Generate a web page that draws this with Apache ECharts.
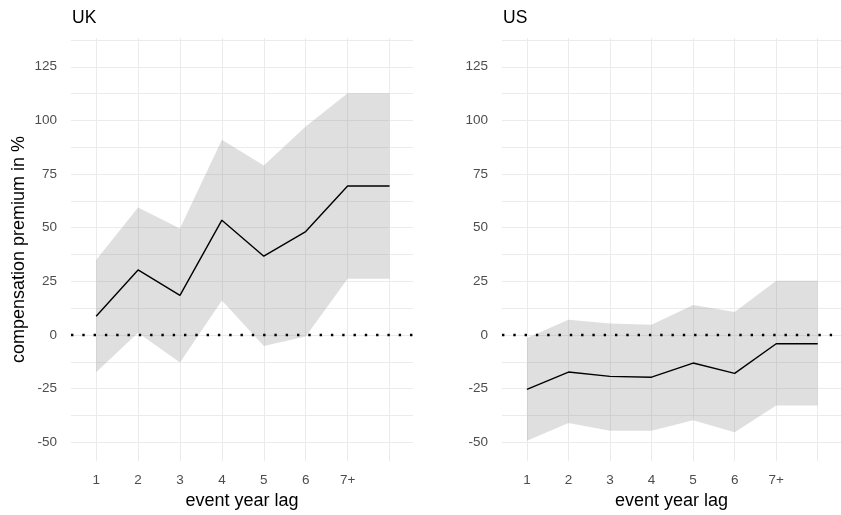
<!DOCTYPE html>
<html>
<head>
<meta charset="utf-8">
<script src="https://cdn.jsdelivr.net/npm/echarts@6/dist/echarts.min.js"></script>
<style>
  html, body { margin: 0; padding: 0; background: #ffffff; }
  #chart { width: 841px; height: 515px; }
</style>
</head>
<body>
<div id="chart"></div>
<script>
// Event year lag positions (the 7+ bucket is held flat out to position 8)
const lagPositions = [1, 2, 3, 4, 5, 6, 7, 8];
const lagLabels = ['1', '2', '3', '4', '5', '6', '7+'];

// UK: point estimate and confidence band (compensation premium, %)
const ukEstimate = [8.7, 30.3, 18.4, 53.5, 36.7, 48.2, 69.4, 69.4];
const ukLower    = [-17.4, 1.0, -12.9, 16.1, -5.2, -0.7, 26.2, 26.2];
const ukUpper    = [34.9, 59.4, 49.6, 91.0, 79.0, 97.2, 112.6, 112.6];

// US: point estimate and confidence band (compensation premium, %)
const usEstimate = [-25.4, -17.3, -19.3, -19.7, -13.1, -17.9, -4.1, -4.1];
const usLower    = [-49.3, -41.1, -44.6, -44.6, -39.8, -45.4, -32.9, -32.9];
const usUpper    = [-1.4, 7.1, 5.3, 4.7, 13.9, 10.7, 25.2, 25.2];

// Axis ticks and grid lines
const yTickValues = [-50, -25, 0, 25, 50, 75, 100, 125];
const yGridValues = [-50, -37.5, -25, -12.5, 0, 12.5, 25, 37.5, 50, 62.5, 75, 87.5, 100, 112.5, 125, 137.5];
const xLabelValues = [1, 2, 3, 4, 5, 6, 7];
const xGridValues = [1, 2, 3, 4, 5, 6, 7, 8];

const panelTitles = ['UK', 'US'];

const FONT = '"Liberation Sans", Arial, sans-serif';
const GRID_COLOR = '#ebebeb';
const RIBBON_FILL = 'rgba(140,140,140,0.28)';

const panels = [
  { left: 71,  est: ukEstimate, lo: ukLower, hi: ukUpper },
  { left: 502, est: usEstimate, lo: usLower, hi: usUpper }
];

const grids = panels.map(p => ({ left: p.left, top: 38, width: 342, height: 425, containLabel: false }));

const xAxes = panels.map((p, i) => ({
  type: 'value',
  gridIndex: i,
  min: 0.4,
  max: 8.56,
  name: 'event year lag',
  nameLocation: 'middle',
  nameGap: 29,
  nameTextStyle: { fontFamily: FONT, fontSize: 18, color: '#000000' },
  axisLine: { show: false },
  axisTick: { show: false, customValues: xGridValues },
  axisLabel: {
    customValues: xLabelValues,
    margin: 12,
    fontFamily: FONT,
    fontSize: 13.5,
    color: '#4d4d4d',
    formatter: v => lagLabels[Math.round(v) - 1] || ''
  },
  splitLine: { show: true, lineStyle: { color: GRID_COLOR, width: 1 } }
}));

const yAxes = panels.map((p, i) => ({
  type: 'value',
  gridIndex: i,
  min: -58.8,
  max: 138.4,
  name: i === 0 ? 'compensation premium in %' : '',
  nameLocation: 'middle',
  nameGap: 43,
  nameTextStyle: { fontFamily: FONT, fontSize: 18, color: '#000000' },
  axisLine: { show: false },
  axisTick: { show: false, customValues: yGridValues },
  axisLabel: {
    customValues: yTickValues,
    margin: 14,
    fontFamily: FONT,
    fontSize: 13.5,
    color: '#4d4d4d'
  },
  splitLine: { show: true, lineStyle: { color: GRID_COLOR, width: 1 } }
}));

function ribbonSeries(i, lower, upper) {
  const data = lagPositions.map((x, k) => [x, lower[k], upper[k]]);
  return {
    type: 'custom',
    xAxisIndex: i,
    yAxisIndex: i,
    data: data,
    silent: true,
    z: 2,
    renderItem(params, api) {
      if (params.dataIndex !== 0) return null;
      const top = data.map(d => api.coord([d[0], d[2]]));
      const bottom = data.slice().reverse().map(d => api.coord([d[0], d[1]]));
      return {
        type: 'polygon',
        shape: { points: top.concat(bottom) },
        style: { fill: RIBBON_FILL, stroke: null }
      };
    }
  };
}

function estimateSeries(i, est) {
  return {
    type: 'line',
    xAxisIndex: i,
    yAxisIndex: i,
    data: lagPositions.map((x, k) => [x, est[k]]),
    symbol: 'none',
    silent: true,
    z: 3,
    lineStyle: { color: '#000000', width: 1.4 },
    markLine: {
      silent: true,
      symbol: 'none',
      label: { show: false },
      lineStyle: { color: '#000000', width: 2.4, type: [2.4, 8.9], cap: 'butt' },
      data: [{ yAxis: 0 }]
    }
  };
}

const series = [];
panels.forEach((p, i) => {
  series.push(ribbonSeries(i, p.lo, p.hi));
  series.push(estimateSeries(i, p.est));
});

const chart = echarts.init(document.getElementById('chart'), null, { renderer: 'canvas' });
chart.setOption({
  animation: false,
  backgroundColor: '#ffffff',
  title: panelTitles.map((t, i) => ({
    text: t,
    left: panels[i].left + 1,
    top: 9,
    padding: 0,
    textStyle: { fontFamily: FONT, fontSize: 17.5, fontWeight: 'normal', color: '#000000' }
  })),
  grid: grids,
  xAxis: xAxes,
  yAxis: yAxes,
  series: series
});
</script>
</body>
</html>
